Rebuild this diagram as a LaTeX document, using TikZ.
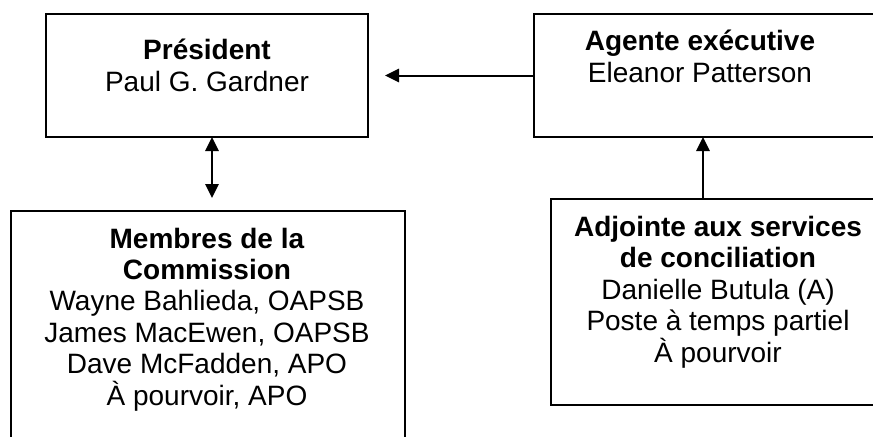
\documentclass[tikz,border=0pt]{standalone}
\usepackage{fontspec}
\setmainfont{Liberation Sans}
\usetikzlibrary{arrows.meta,calc}
\begin{document}
\begin{tikzpicture}[x=0.75pt,y=-0.75pt,
  box/.style={draw, line width=1.1pt, rectangle, anchor=north west, inner sep=0pt, outer sep=0pt},
  txt/.style={align=center, inner sep=0pt, font=\fontsize{21}{23.55}\selectfont, anchor=base},
  arr/.style={line width=1.5pt, -{Triangle[length=10.5pt,width=10pt]}},
  darr/.style={line width=1.5pt, {Triangle[length=10.5pt,width=10pt]}-{Triangle[length=10.5pt,width=10pt]}}]
\useasboundingbox (0,0) rectangle (873,436);
\clip (0,0) rectangle (873,436);
% boxes
\node[box, minimum width={322*0.75pt}, minimum height={123*0.75pt}] (pres) at (46,14) {};
\node[box, minimum width={366*0.75pt}, minimum height={123*0.75pt}] (ag) at (534,14) {};
\node[box, minimum width={394*0.75pt}, minimum height={249*0.75pt}] (comm) at (11,211) {};
\node[box, minimum width={349*0.75pt}, minimum height={206*0.75pt}] (adj) at (551,199) {};
% texts (anchor = baseline of last line)
\node[txt] (prest) at (207,91) {\textbf{Président}\\Paul G. Gardner};
\node[txt] (agt) at (700,82) {\textbf{Agente exécutive}\\Eleanor Patterson};
\node[txt] (commt) at (207,405) {\textbf{Membres de la}\\\textbf{Commission}\\Wayne Bahlieda, OAPSB\\James MacEwen, OAPSB\\Dave McFadden, APO\\À pourvoir, APO};
\node[txt] (adjt) at (718,362) {\textbf{Adjointe aux services}\\\textbf{de conciliation}\\Danielle Butula (A)\\Poste à temps partiel\\À pourvoir};
% connectors
\draw[arr, shorten >={17*0.75pt}] (ag.west) -- (pres.east);
\coordinate (dtop) at ($(pres.south west)+(166,0)$);
\draw[darr, shorten >={13*0.75pt}] (dtop) -- (dtop |- comm.north);
\coordinate (ubot) at ($(adj.north west)+(152,0)$);
\draw[arr] (ubot) -- (ubot |- ag.south);
\end{tikzpicture}
\end{document}
